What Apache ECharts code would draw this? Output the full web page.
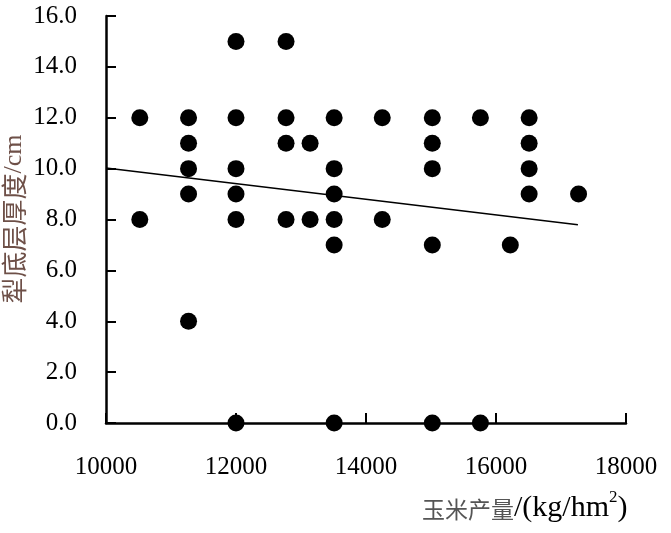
<!DOCTYPE html>
<html>
<head>
<meta charset="utf-8">
<script src="https://cdn.jsdelivr.net/npm/echarts@6/dist/echarts.min.js"></script>
<style>html,body{margin:0;padding:0;background:#fff}#c{width:671px;height:533px}</style>
</head>
<body>
<div id="c"></div>
<script>
// Scatter data (corn yield kg/hm2, plow pan thickness cm)
const yieldX = [10520,10520,
  11270,11270,11270,11270,11270,
  12000,12000,12000,12000,12000,12000,
  12770,12770,12770,12770,
  13140,13140,
  13510,13510,13510,13510,13510,13510,
  14250,14250,
  15020,15020,15020,15020,15020,
  15760,15760,
  16220,
  16510,16510,16510,16510,
  17270];
const thickY = [12,8,
  12,11,10,9,4,
  15,12,10,9,8,0,
  15,12,11,8,
  11,8,
  12,10,9,8,7,0,
  12,8,
  12,11,10,7,0,
  12,0,
  7,
  12,11,10,9,
  9];
// Trend line endpoints
const trendX = [10000, 17260];
const trendY = [10.02, 7.79];
const xTicks = [10000, 12000, 14000, 16000, 18000];
const yTicks = [0, 2, 4, 6, 8, 10, 12, 14, 16];

const chart = echarts.init(document.getElementById('c'));
const serif = 'Liberation Serif';
const axisCommon = {
  axisLine: {show: true, onZero: false, lineStyle: {color: '#000', width: 2.5}},
  axisTick: {show: true, inside: true, length: 10, lineStyle: {color: '#000', width: 2}},
  splitLine: {show: false}
};
chart.setOption({
  animation: false,
  grid: {left: 106, top: 16, right: 45, bottom: 110, containLabel: false},
  xAxis: Object.assign({
    type: 'value', min: xTicks[0], max: xTicks[xTicks.length-1], interval: 2000,
    axisLabel: {color: '#000', fontFamily: serif, fontSize: 25, margin: 32,
      formatter: v => String(v)}
  }, axisCommon),
  yAxis: Object.assign({
    type: 'value', min: yTicks[0], max: yTicks[yTicks.length-1], interval: 2,
    axisLabel: {color: '#000', fontFamily: serif, fontSize: 25, margin: 29,
      formatter: v => v.toFixed(1)}
  }, axisCommon),
  series: [
    {type: 'scatter', data: yieldX.map((x, i) => [x, thickY[i]]),
     symbol: 'circle', symbolSize: 17, itemStyle: {color: '#000', opacity: 1}, z: 3},
    {type: 'line', data: trendX.map((x, i) => [x, trendY[i]]),
     showSymbol: false, symbol: 'none', lineStyle: {color: '#000', width: 1.5}, z: 2}
  ],
  graphic: [
    {type: 'text', left: 422, top: 489,
     style: {
       text: '{a|玉米产量}{b|/(kg/hm}{s|2}{b|)}',
       rich: {
         a: {fontFamily: 'Noto Sans CJK SC', fontSize: 23, fill: '#555', lineHeight: 34, verticalAlign: 'bottom', padding: [0, 0, 2, 0]},
         b: {fontFamily: serif, fontSize: 30, fill: '#000', lineHeight: 34, verticalAlign: 'bottom'},
         s: {fontFamily: serif, fontSize: 17, fill: '#000', verticalAlign: 'top', lineHeight: 34}
       }
     }},
    {type: 'text', x: 14, y: 219, rotation: Math.PI / 2,
     style: {
       text: '{a|犁底层厚度}{b|/cm}',
       align: 'center', verticalAlign: 'middle',
       rich: {
         a: {fontFamily: 'Noto Sans CJK SC', fontSize: 26, fill: '#6e5048'},
         b: {fontFamily: serif, fontSize: 26, fill: '#6e5048'}
       }
     }}
  ]
});
</script>
</body>
</html>
